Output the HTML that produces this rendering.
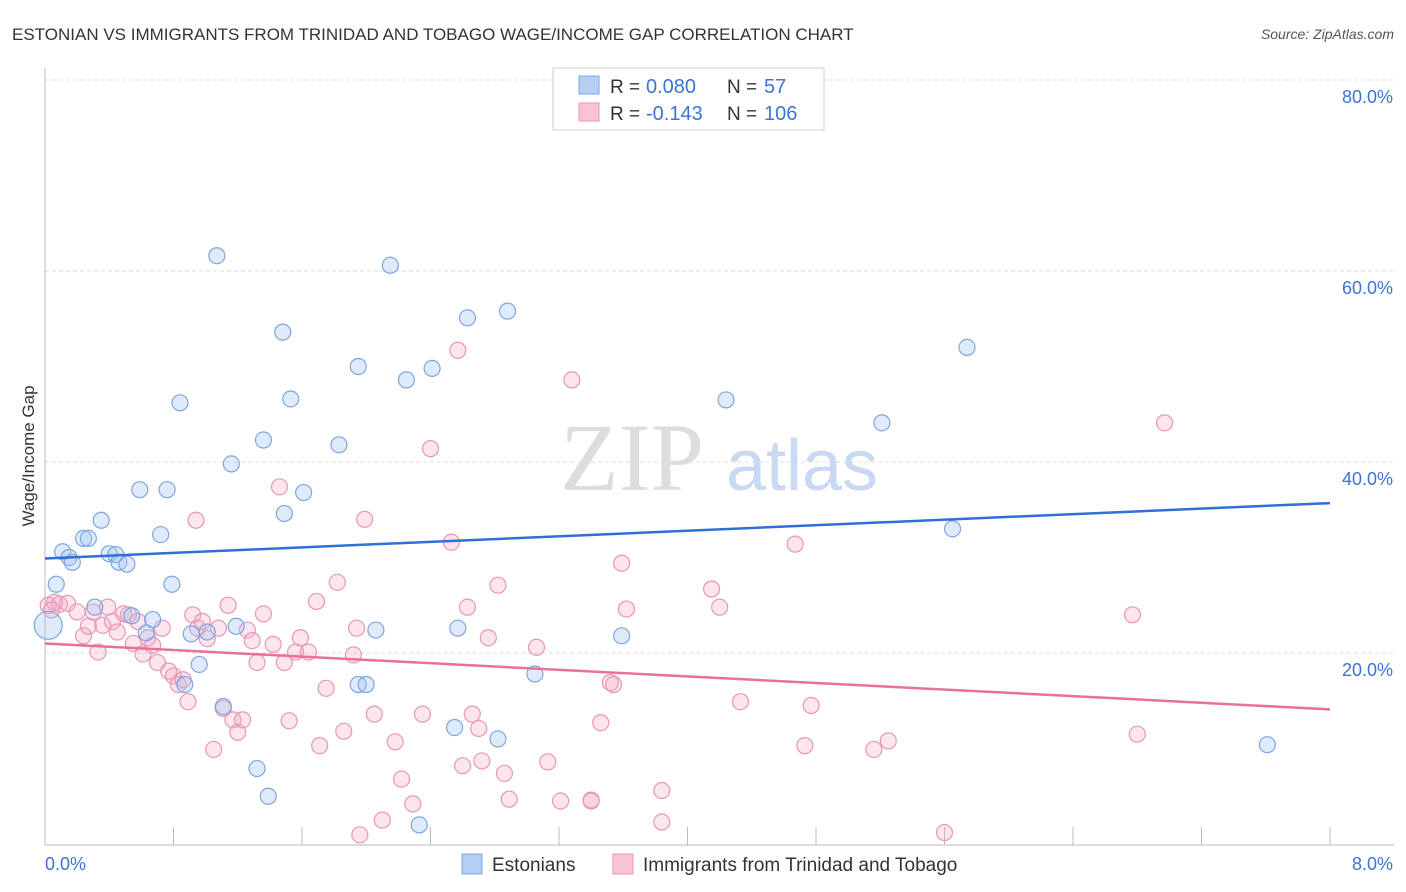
<!DOCTYPE html>
<html><head><meta charset="utf-8"><style>
body{margin:0;background:#fff;font-family:"Liberation Sans",sans-serif;}
svg{display:block}
</style></head><body>
<svg id="chart" width="1406" height="892"></svg>
<script>
const blueX=[1.07,2.15,1.48,2.63,2.88,5.74,1.95,2.25,2.41,0.84,1.53,4.24,5.21,1.36,1.83,1.16,0.59,0.76,1.61,1.49,0.35,0.72,0.24,0.27,0.11,0.15,0.17,0.40,0.44,0.46,0.51,5.65,0.07,0.79,0.31,0.54,0.67,0.63,0.91,1.01,1.19,2.06,2.57,3.59,0.96,0.87,1.95,1.999,3.05,1.11,2.55,2.82,7.61,1.32,1.39,2.33,0.02];
const blueY=[61.6,60.6,53.6,55.1,55.8,52.0,50.0,48.6,49.8,46.2,46.6,46.5,44.1,42.3,41.8,39.8,37.1,37.1,36.8,34.6,33.9,32.4,32.0,32.0,30.6,30.0,29.5,30.4,30.3,29.5,29.3,33.0,27.2,27.2,24.8,23.9,23.5,22.1,22.0,22.2,22.8,22.4,22.6,21.8,18.8,16.7,16.7,16.7,17.8,14.4,12.2,11.0,10.4,7.9,5.0,2.0,22.9];
const pinkX=[0.02,0.06,0.09,0.14,0.04,0.20,0.24,0.27,0.30,0.33,0.36,0.39,0.42,0.45,0.49,0.52,0.55,0.58,0.61,0.64,0.67,0.70,0.73,0.77,0.80,0.83,0.86,0.89,0.92,0.95,0.98,1.01,1.05,1.08,1.11,1.14,1.17,1.20,1.23,1.26,1.29,1.32,1.36,1.42,1.46,1.49,1.52,1.56,1.59,1.64,1.69,1.71,1.75,1.82,1.86,1.92,1.94,1.96,1.99,2.05,2.10,2.18,2.22,2.29,2.35,2.40,2.53,2.57,2.60,2.63,2.66,2.70,2.72,2.76,2.82,2.86,2.89,3.06,3.13,3.21,3.28,3.40,3.40,3.46,3.52,3.54,3.59,3.62,3.84,3.84,4.15,4.20,4.33,4.67,4.73,4.77,5.16,5.25,5.60,6.77,6.80,6.97,0.94];
const pinkY=[25.0,25.3,25.1,25.2,24.5,24.3,21.8,22.8,24.3,20.1,22.9,24.8,23.3,22.2,24.1,24.0,21.0,23.3,19.9,21.6,20.8,19.0,22.6,18.1,17.6,16.7,17.2,14.9,24.0,22.6,23.3,21.5,9.9,22.6,14.2,25.0,13.0,11.7,13.0,22.4,21.3,19.0,24.1,20.9,37.4,19.0,12.9,20.1,21.6,20.1,25.4,10.3,16.3,27.4,11.8,19.8,22.6,0.96,34.0,13.6,2.5,10.7,6.8,4.2,13.6,41.4,31.6,51.7,8.2,24.8,13.6,12.1,8.7,21.6,27.1,7.4,4.7,20.6,8.6,4.5,48.6,4.6,4.5,12.7,16.9,16.7,29.4,24.6,2.3,5.6,26.7,24.8,14.9,31.4,10.3,14.5,9.9,10.8,1.2,24.0,11.5,44.1,33.9,20.1,4.1,22.6];
const xTicks=[0,0.8,1.6,2.4,3.2,4.0,4.8,5.6,6.4,7.2,8.0];
const yTicks=[20,40,60,80];
const blueLine=[29.9,35.7], pinkLine=[21.0,14.1];
const NS='http://www.w3.org/2000/svg', svg=document.getElementById('chart');
const X=v=>45+v/8*1285, Y=v=>844-v*9.55;
function mk(t,a,p){const e=document.createElementNS(NS,t);for(const k in a)e.setAttribute(k,a[k]);(p||svg).appendChild(e);return e;}
function txt(s,a){const e=mk('text',a);e.textContent=s;return e;}
let t=txt('ESTONIAN VS IMMIGRANTS FROM TRINIDAD AND TOBAGO WAGE/INCOME GAP CORRELATION CHART',{x:12,y:40,'font-size':17,fill:'#333'});


t=txt('Source: ZipAtlas.com',{x:1394,y:39,'font-size':14,fill:'#555','font-style':'italic','text-anchor':'end'});


yTicks.forEach(v=>{
 const l=mk('line',{x1:45,x2:1394,y1:Y(v),y2:Y(v),stroke:'#ddd','stroke-dasharray':'4,3'});
 
 
 const e=txt(v.toFixed(1)+'%',{x:1393,y:Y(v)+23,'font-size':18,fill:'#3b74d6','text-anchor':'end'});
 
 
});
let ax=mk('line',{x1:45,x2:45,y1:68,y2:845,stroke:'#bbb'});


ax=mk('line',{x1:45,x2:1394,y1:845,y2:845,stroke:'#bbb'});


xTicks.forEach(v=>{const l=mk('line',{x1:X(v),x2:X(v),y1:827,y2:845,stroke:'#bbb'});
 
 });
t=txt('0.0%',{x:45,y:870,'font-size':18,fill:'#3b74d6'});


t=txt('8.0%',{x:1393,y:870,'font-size':18,fill:'#3b74d6','text-anchor':'end'});


t=txt('Wage/Income Gap',{x:34,y:456,'font-size':17,fill:'#333','text-anchor':'middle',transform:'rotate(-90 34 456)'});


t=txt('ZIP',{x:632,y:490,'font-size':96,fill:'#ddd','font-family':'Liberation Serif','text-anchor':'middle'});


t=txt('atlas',{x:802,y:490,'font-size':72,fill:'#c9d9f2','text-anchor':'middle'});


pinkX.forEach((v,i)=>{const c=mk('circle',{cx:X(v),cy:Y(pinkY[i]),r:8,fill:'rgba(244,170,196,0.3)',stroke:'#e996b6','stroke-width':1.2});
 
 });
blueX.forEach((v,i)=>{const c=mk('circle',{cx:X(v),cy:Y(blueY[i]),r:i==blueX.length-1?14:8,fill:'rgba(164,196,240,0.35)',stroke:'#7ea6e0','stroke-width':1.2});
 
 });
let ln=mk('line',{x1:X(0),x2:X(8),y1:Y(blueLine[0]),y2:Y(blueLine[1]),stroke:'#2f6fd6','stroke-width':2.5});


ln=mk('line',{x1:X(0),x2:X(8),y1:Y(pinkLine[0]),y2:Y(pinkLine[1]),stroke:'#e8709a','stroke-width':2.5});


const lg=mk('g',{});


mk('rect',{x:553,y:68,width:271,height:62,fill:'#fff',stroke:'#ccc'},lg);
mk('rect',{x:579,y:76,width:20,height:18,fill:'#b4cff3',stroke:'#7ea6e0'},lg);
mk('rect',{x:579,y:103,width:20,height:18,fill:'#f8c4d5',stroke:'#e996b6'},lg);
[['R = ','0.080','N = ','57',93],['R = ','-0.143','N = ','106',120]].forEach(r=>{
 let e=mk('text',{x:610,y:r[4],'font-size':19,fill:'#333'},lg);e.textContent=r[0];
 e=mk('text',{x:646,y:r[4],'font-size':20,fill:'#3b74d6'},lg);e.textContent=r[1];
 e=mk('text',{x:727,y:r[4],'font-size':19,fill:'#333'},lg);e.textContent=r[2];
 e=mk('text',{x:764,y:r[4],'font-size':20,fill:'#3b74d6'},lg);e.textContent=r[3];
});
const bl=mk('g',{});


mk('rect',{x:462,y:854,width:20,height:20,fill:'#b4cff3',stroke:'#7ea6e0'},bl);
let e=mk('text',{x:492,y:871,'font-size':19,fill:'#333'},bl);e.textContent='Estonians';
mk('rect',{x:613,y:854,width:20,height:20,fill:'#f8c4d5',stroke:'#e996b6'},bl);
e=mk('text',{x:643,y:871,'font-size':19,fill:'#333'},bl);e.textContent='Immigrants from Trinidad and Tobago';
</script>
</body></html>
